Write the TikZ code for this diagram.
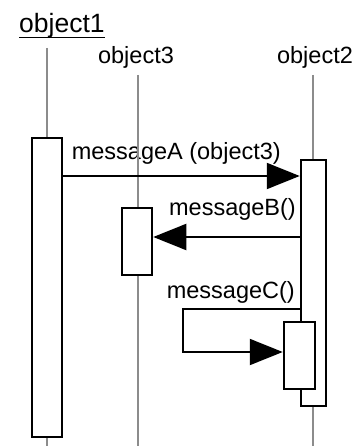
\documentclass[tikz,border=0pt]{standalone}
\usepackage{fontspec}
\setmainfont{Liberation Sans}
\usetikzlibrary{positioning,arrows.meta,calc}

\begin{document}
\begin{tikzpicture}[
      x=1pt, y=-1pt, font=\fontsize{23.5}{28}\selectfont,
      lifeline/.style={draw=black!45,line width=2pt},
      activation/.style={draw,fill=white,line width=2.5pt,inner sep=0pt},
      message/.style={draw,line width=2pt,-{Triangle[length=33pt,width=26pt]}},
      label/.style={anchor=base east,inner sep=0pt}
      ]
      
      \path[use as bounding box] (0,0) rectangle (361,446);
      
      % les objets
      \node[anchor=base west,inner sep=0pt,font=\fontsize{26.5}{30}\selectfont] (object1) at (19,33) {object1};
      \path[draw,line width=1.5pt] (object1.base west) ++(0,4.5) -- ($(object1.base east)+(0,4.5)$);
      \node[anchor=base,inner sep=0pt] (object3) at (136,64) {object3};
      \node[anchor=base,inner sep=0pt] (object2) at (315,64) {object2};
      
      \node[label] (msgA) at (281,160) {messageA (object3)};
      \node[label] (msgB) at (296,215) {messageB()};
      \node[label] (msgC) at (295,298) {messageC()};
      
      % lignes de vie
      \coordinate (top1) at (47,48);
      \coordinate (top3) at (138,75);
      \coordinate (top2) at (313,75);
      \path[lifeline] (top1) -- (top1 |- 0,446);
      \path[lifeline] (top3) -- (top3 |- 0,446);
      \path[lifeline] (top2) -- (top2 |- 0,446);
      
      % activations
      \node[activation, minimum width=30pt, minimum height=299pt] (act1) at (47,287.5) {};
      \node[activation, minimum width=30pt, minimum height=67pt] (act3) at (137,241.5) {};
      \node[activation, minimum width=25pt, minimum height=246pt] (act2) at (313.5,283) {};
      \node[activation, minimum width=31pt, minimum height=67pt] (act2c) at (299.5,355.5) {};
      
      % messages
      \path[message] (act1.east |- 0,176) -- (act2.west |- 0,176);
      \path[message] (act2.west |- 0,237) -- (act3.east |- 0,237);
      \coordinate (loopC) at (183,330);
      \path[message] (act2.west |- 0,309) -| (loopC) |- (act2c.west |- 0,352);
    \end{tikzpicture}
\end{document}
